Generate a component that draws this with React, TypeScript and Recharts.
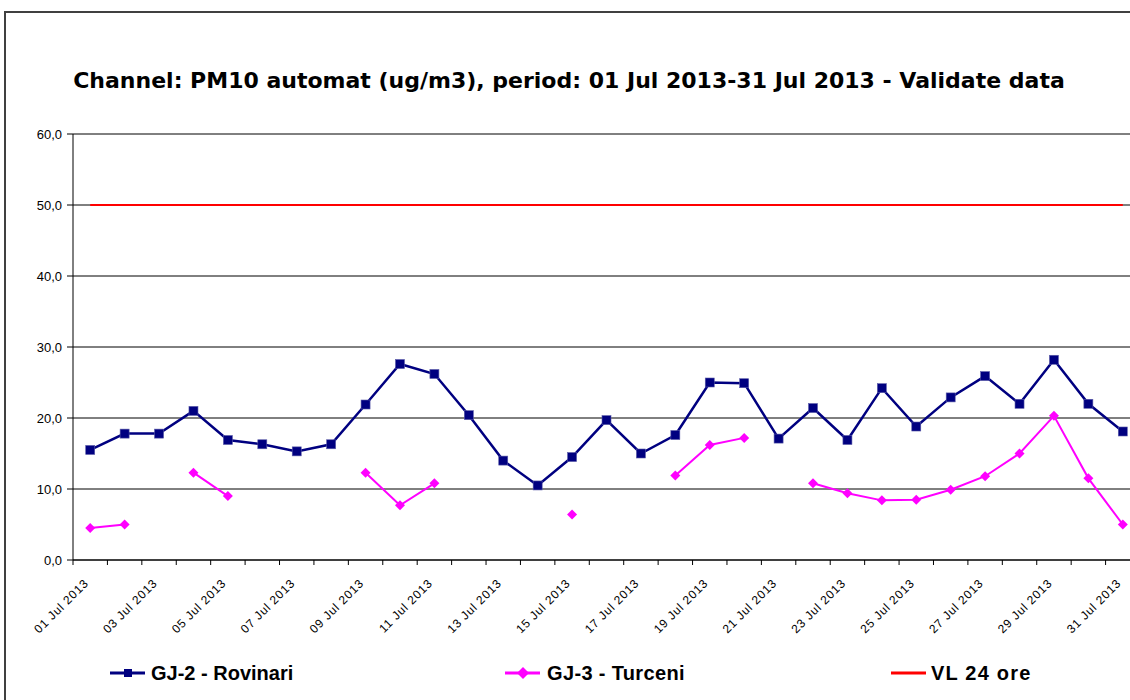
import React from "react";
import { LineChart, Line, XAxis, YAxis, CartesianGrid } from "recharts";

const dates = [
  "01 Jul 2013", "02 Jul 2013", "03 Jul 2013", "04 Jul 2013", "05 Jul 2013",
  "06 Jul 2013", "07 Jul 2013", "08 Jul 2013", "09 Jul 2013", "10 Jul 2013",
  "11 Jul 2013", "12 Jul 2013", "13 Jul 2013", "14 Jul 2013", "15 Jul 2013",
  "16 Jul 2013", "17 Jul 2013", "18 Jul 2013", "19 Jul 2013", "20 Jul 2013",
  "21 Jul 2013", "22 Jul 2013", "23 Jul 2013", "24 Jul 2013", "25 Jul 2013",
  "26 Jul 2013", "27 Jul 2013", "28 Jul 2013", "29 Jul 2013", "30 Jul 2013",
  "31 Jul 2013",
];

const rovinari = [
  15.5, 17.8, 17.8, 21.0, 16.9, 16.3, 15.3, 16.3, 21.9, 27.6, 26.2, 20.4, 14.0,
  10.5, 14.5, 19.7, 15.0, 17.6, 25.0, 24.9, 17.1, 21.4, 16.9, 24.2, 18.8, 22.9,
  25.9, 22.0, 28.2, 22.0, 18.1,
];

const turceni: (number | null)[] = [
  4.5, 5.0, null, 12.3, 9.0, null, null, null, 12.3, 7.7, 10.8, null, null,
  null, 6.4, null, null, 11.9, 16.2, 17.2, null, 10.8, 9.4, 8.4, 8.5, 9.9,
  11.8, 15.0, 20.3, 11.5, 5.0,
];

// daily limit value (VL 24 ore)
const vlLimit = 50;

const yTicks = [0, 10, 20, 30, 40, 50, 60];

const data = dates.map((date, i) => ({
  date,
  rovinari: rovinari[i],
  turceni: turceni[i],
  vl: vlLimit,
}));

const CHART_W = 1150;
const CHART_H = 700;
const MARGIN = { top: 134, right: 10, bottom: 70, left: 0 };
const Y_AXIS_W = 73;
const BAND = (CHART_W - MARGIN.left - MARGIN.right - Y_AXIS_W) / dates.length;

const NAVY = "#000080";
const PINK = "#FF00FF";
const RED = "#FF0000";
const SANS = "'Liberation Sans', Arial, sans-serif";

function SquareDot(props: any) {
  const { cx, cy, value } = props;
  if (value == null || cx == null || cy == null) return null;
  return (
    <rect x={cx - 4.5} y={cy - 4.5} width={9} height={9} fill={NAVY} stroke="#5a5aa8" strokeWidth={0.6} />
  );
}

function DiamondDot(props: any) {
  const { cx, cy, value } = props;
  if (value == null || cx == null || cy == null) return null;
  const r = 5;
  return (
    <polygon points={`${cx},${cy - r} ${cx + r},${cy} ${cx},${cy + r} ${cx - r},${cy}`} fill={PINK} />
  );
}

// Excel-style: tick marks sit between categories, labels on every other day
function DateTick(props: any) {
  const { x, y, payload } = props;
  const idx = payload.index;
  const bx = x - BAND / 2;
  const tx = x - 1;
  const ty = y + 24;
  return (
    <g>
      <line x1={bx} y1={y} x2={bx} y2={y + 5} stroke="#000" strokeWidth={1} />
      {idx % 2 === 0 && (
        <text
          x={tx}
          y={ty}
          transform={`rotate(-45, ${tx}, ${ty})`}
          textAnchor="end"
          fontSize={12}
          letterSpacing={0.8}
          fontFamily={SANS}
          fill="#000"
        >
          {payload.value}
        </text>
      )}
    </g>
  );
}

const legendItems = [
  { label: "GJ-2 - Rovinari", color: NAVY, marker: "square", icon: 110, text: 151, spacing: 0 },
  { label: "GJ-3 - Turceni", color: PINK, marker: "diamond", icon: 505, text: 547, spacing: 0.35 },
  { label: "VL 24 ore", color: RED, marker: "none", icon: 891, text: 931, spacing: 1.2 },
];

export default function App() {
  return (
    <div
      style={{
        position: "fixed",
        left: 0,
        top: 0,
        width: 1130,
        height: 700,
        overflow: "hidden",
        background: "#fff",
      }}
    >
      <div
        style={{
          position: "absolute",
          left: 4,
          top: 11,
          width: 1300,
          height: 900,
          borderLeft: "2px solid #404040",
          borderTop: "2px solid #404040",
        }}
      />
      <div style={{ position: "absolute", left: 0, top: 0 }}>
        <LineChart width={CHART_W} height={CHART_H} data={data} margin={MARGIN}>
          <CartesianGrid horizontal vertical={false} stroke="#000" strokeOpacity={1} />
          <XAxis
            dataKey="date"
            interval={0}
            height={70}
            padding={{ left: BAND / 2, right: BAND / 2 }}
            tickSize={0}
            tickMargin={0}
            tickLine={false}
            axisLine={{ stroke: "#000", strokeWidth: 1 }}
            tick={<DateTick />}
          />
          <YAxis
            domain={[0, 60]}
            ticks={yTicks}
            width={Y_AXIS_W}
            tickSize={6}
            tickMargin={5}
            tickLine={{ stroke: "#000" }}
            axisLine={{ stroke: "#000", strokeWidth: 1 }}
            tick={{ fontSize: 13, fill: "#000", fontFamily: SANS }}
            tickFormatter={(v: number) => v.toFixed(1).replace(".", ",")}
          />
          <Line
            dataKey="vl"
            stroke={RED}
            strokeWidth={2}
            dot={false}
            isAnimationActive={false}
          />
          <Line
            dataKey="turceni"
            stroke={PINK}
            strokeWidth={2}
            dot={<DiamondDot />}
            connectNulls={false}
            isAnimationActive={false}
          />
          <Line
            dataKey="rovinari"
            stroke={NAVY}
            strokeWidth={2.5}
            dot={<SquareDot />}
            isAnimationActive={false}
          />
        </LineChart>
      </div>
      <svg
        width={1130}
        height={700}
        style={{ position: "absolute", left: 0, top: 0, pointerEvents: "none" }}
      >
        <text
          x={569}
          y={88}
          textAnchor="middle"
          fontFamily="'DejaVu Sans', Verdana, sans-serif"
          fontWeight="bold"
          fontSize={22}
          fill="#000"
        >
          Channel: PM10 automat (ug/m3), period: 01 Jul 2013-31 Jul 2013 - Validate data
        </text>
        {legendItems.map((it) => (
          <g key={it.label}>
            <line x1={it.icon} y1={673} x2={it.icon + 35} y2={673} stroke={it.color} strokeWidth={3} />
            {it.marker === "square" && (
              <rect x={it.icon + 14} y={669} width={8} height={8} fill={it.color} />
            )}
            {it.marker === "diamond" && (
              <polygon
                points={`${it.icon + 18},${667} ${it.icon + 24},${673} ${it.icon + 18},${679} ${it.icon + 12},${673}`}
                fill={it.color}
              />
            )}
            <text
              x={it.text}
              y={680}
              fontFamily={SANS}
              fontWeight="bold"
              fontSize={20}
              letterSpacing={it.spacing}
              fill="#000"
            >
              {it.label}
            </text>
          </g>
        ))}
      </svg>
    </div>
  );
}
